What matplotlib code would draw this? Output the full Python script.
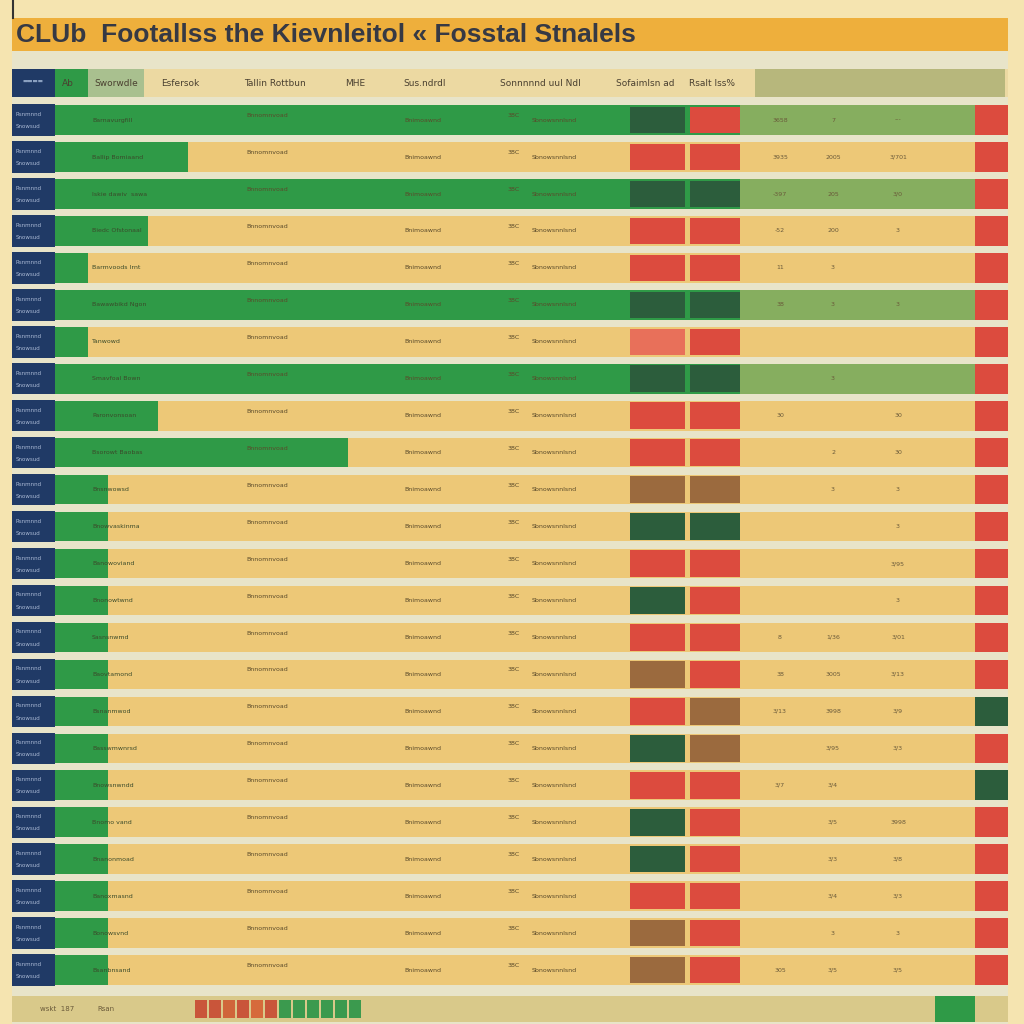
import matplotlib.pyplot as plt

# Textos (tal como aparecen en la imagen)
title = "CLUb  Footallss the Kievnleitol « Fosstal Stnalels"
headers = ["Ab", "Sworwdle", "Esfersok", "Tallin Rottbun", "MHE",
           "Sus.ndrdl", "Sonnnnnd uul Ndl", "Sofaimlsn ad", "Rsalt Iss%"]

# Datos por fila
row_fill = ["G", "Y", "G", "Y", "Y", "G", "Y", "G", "Y", "Y", "Y", "Y",
            "Y", "Y", "Y", "Y", "Y", "Y", "Y", "Y", "Y", "Y", "Y", "Y"]
green_reach = [0, 1.0, 0, 0.6, 0, 0, 0, 0, 0.7, 2.6, 0.2, 0.2,
               0.2, 0.2, 0.2, 0.2, 0.2, 0.2, 0.2, 0.2, 0.2, 0.2, 0.2, 0.2]
status_a = ["g", "r", "g", "r", "r", "g", "s", "g", "r", "r", "b", "g",
            "r", "g", "r", "b", "r", "g", "r", "g", "g", "r", "b", "b"]
status_b = ["r", "r", "g", "r", "r", "g", "r", "g", "r", "r", "b", "g",
            "r", "r", "r", "r", "b", "b", "r", "r", "r", "r", "r", "r"]
end_col = ["r", "r", "r", "r", "r", "r", "r", "r", "r", "r", "r", "r",
           "r", "r", "r", "r", "g", "r", "g", "r", "r", "r", "r", "r"]
num1 = ["3658", "3935", "-397", "-52", "11", "38", "", "", "30", "", "", "",
        "", "", "8", "38", "3/13", "", "3/7", "", "", "", "", "305"]
num2 = ["7", "2005", "205", "200", "3", "3", "", "3", "", "2", "3", "",
        "", "", "1/36", "3005", "3998", "3/95", "3/4", "3/5", "3/3", "3/4", "3", "3/5"]
num3 = ["---", "3/701", "3/0", "3", "", "3", "", "", "30", "30", "3", "3",
        "3/95", "3", "3/01", "3/13", "3/9", "3/3", "", "3998", "3/8", "3/3", "3", "3/5"]
team = ["Barnavurgfill", "Ballip Bomiaand", "Iskie dawiv  sawa", "Biedc Ofstonaal",
        "Barmvoods Irnt", "Bawawbikd Ngon", "Tanwowd", "Smavfoal Bown",
        "Paronvonsoan", "Bsorowt Baobas", "Bnsnwowsd", "Bnowvaskinma",
        "Banowoviand", "Bnonowtwnd", "Sasnsnwmd", "Baovtamond",
        "Bsnanmwod", "Basswmwnrsd", "Bnowsnwndd", "Bnomo vand",
        "Bnanonmoad", "Banoxmasnd", "Bonowsvnd", "Bsanbnsand"]

bg = "#f5e4b0"
gap = "#e8e4c9"
navy = "#203a66"
green = "#2f9a47"
lgreen = "#86ae5f"
yellow = "#edc877"
status_colors = {"r": "#dc4b3e", "g": "#2c5d3c", "b": "#9b6a3e", "s": "#e8705a"}

fig = plt.figure(figsize=(10.24, 10.24), dpi=100)
fig.patch.set_facecolor(bg)
ax = fig.add_axes([0, 0, 1, 1])
ax.set_facecolor(bg)
ax.set_xlim(0, 1024)
ax.set_ylim(24.46, -3.25)
ax.axis("off")

n = len(row_fill)
rows = list(range(n))
h = 0.8

# fondo de la tabla y titulo
ax.barh(11.5, 996, left=12, height=26.9, color=gap, zorder=0)
ax.barh(-2.32, 996, left=12, height=0.9, color="#eeaf3c", zorder=1)
ax.plot([13, 13], [-3.25, -2.76], color="#333333", lw=1.5)
ax.text(16, -2.3, title, fontsize=19, fontweight="bold", color="#363944",
        va="center", ha="left", family=["Liberation Sans", "DejaVu Sans"],
        zorder=3)

# fila de encabezado
ax.barh(-1, 996, left=12, height=0.75, color="#ecd9a2", zorder=1)
ax.barh(-1, 250, left=755, height=0.75, color="#b7b77c", zorder=1)
ax.barh(-1, 43, left=12, height=0.75, color=navy, zorder=2)
ax.barh(-1, 33, left=55, height=0.75, color=green, zorder=2)
ax.barh(-1, 56, left=88, height=0.75, color="#a9c08f", zorder=2)
head_x = [68, 116, 180, 275, 355, 425, 540, 645, 712]
for x, t in zip(head_x, headers):
    ax.text(x, -1, t, fontsize=6.5, color="#4a4030", ha="center", va="center", zorder=3)
ax.text(33, -1.05, "▬▬▬▬", fontsize=4, color="#8aa0c0", ha="center", va="center", zorder=3)

# filas
for i in rows:
    base = green if row_fill[i] == "G" else yellow
    ax.barh(i, 920, left=55, height=h, color=base, zorder=1)
    if row_fill[i] == "G":
        ax.barh(i, 235, left=740, height=h, color=lgreen, zorder=2)
    ax.barh(i, 43, left=12, height=h + 0.05, color=navy, zorder=2)
    ax.barh(i, 33, left=55, height=h, color=green, zorder=2)
    if green_reach[i] > 0:
        ax.barh(i, green_reach[i] * 100, left=88, height=h, color=green, zorder=2)
    ax.barh(i, 55, left=630, height=h * 0.9, color=status_colors[status_a[i]], zorder=3)
    ax.barh(i, 50, left=690, height=h * 0.9, color=status_colors[status_b[i]], zorder=3)
    ax.barh(i, 33, left=975, height=h, color=status_colors[end_col[i]], zorder=3)

    # textos pequenos de las celdas
    ax.text(16, i - 0.15, "Rsnmnnd", fontsize=4, color="#a9b8d4", va="center", zorder=4)
    ax.text(16, i + 0.18, "Snowsud", fontsize=4, color="#a9b8d4", va="center", zorder=4)
    ax.text(92, i, team[i], fontsize=4.5, color="#3a4a2a", va="center", zorder=4)
    ax.text(246, i - 0.12, "Bnnomnvoad", fontsize=4.5, color="#5a4a2a", va="center", zorder=4)
    ax.text(404, i, "Bnimoawnd", fontsize=4.5, color="#5a4a2a", va="center", zorder=4)
    ax.text(508, i - 0.12, "38C", fontsize=4.5, color="#5a4a2a", va="center", zorder=4)
    ax.text(532, i, "Sbnowsnnlsnd", fontsize=4.5, color="#5a4a2a", va="center", zorder=4)
    ax.text(780, i, num1[i], fontsize=4.5, color="#6a5a3a", ha="center", va="center", zorder=4)
    ax.text(833, i, num2[i], fontsize=4.5, color="#6a5a3a", ha="center", va="center", zorder=4)
    ax.text(898, i, num3[i], fontsize=4.5, color="#6a5a3a", ha="center", va="center", zorder=4)

# fila inferior
ax.barh(24.05, 996, left=12, height=0.7, color="#d9c98a", zorder=1)
ax.barh(24.05, 40, left=935, height=0.7, color="#2f9a47", zorder=2)
foot_colors = ["#c9553a", "#c9553a", "#d0653a", "#c9553a", "#d66a3c", "#c9553a",
               "#3b9a4e", "#3b9a4e", "#3b9a4e", "#3b9a4e", "#3b9a4e", "#3b9a4e"]
for k, c in enumerate(foot_colors):
    ax.barh(24.05, 12, left=195 + k * 14, height=0.5, color=c, zorder=3)
ax.text(40, 24.05, "wskt  187", fontsize=5, color="#6a5a3a", va="center", zorder=4)
ax.text(97, 24.05, "Rsan", fontsize=5, color="#6a5a3a", va="center", zorder=4)

fig.savefig("out.png", dpi=100, facecolor=bg)
